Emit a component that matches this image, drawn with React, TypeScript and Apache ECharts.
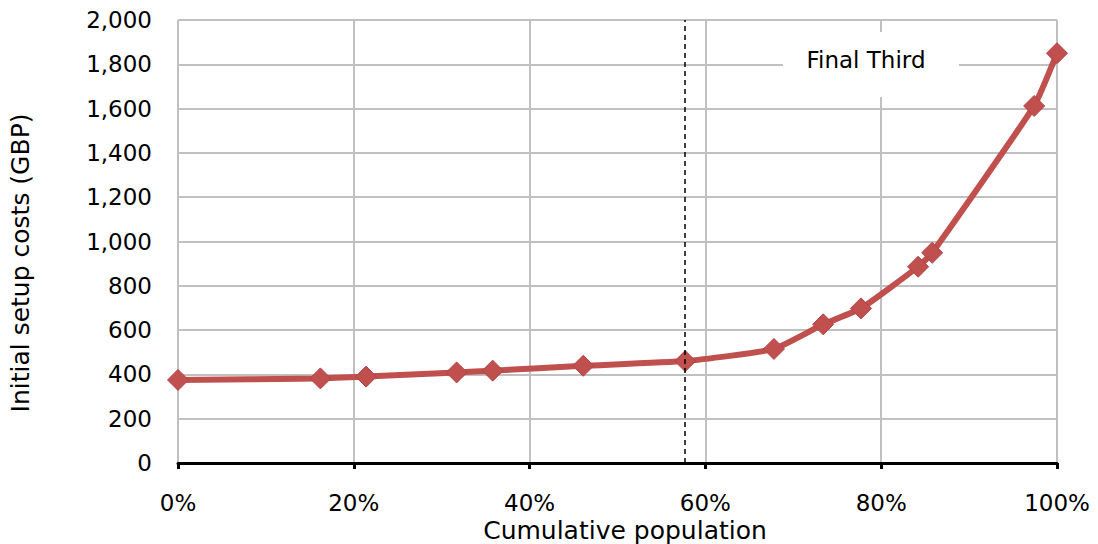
import React, { useEffect, useRef } from "react";
import * as echarts from "echarts";

// Cumulative share of the population (%) and the initial setup cost (GBP) at each step
const cumulativePopulation = [0, 16.2, 21.4, 31.7, 35.8, 46.1, 57.7, 67.8, 73.4, 77.7, 84.2, 85.8, 97.4, 100];
const setupCosts = [375, 382, 390, 409, 417, 439, 460, 515, 626, 698, 886, 949, 1612, 1850];

// Where the final third of the population begins
const finalThirdStart = 57.7;
const finalThirdLabel = "Final Third";

const xTitle = "Cumulative population";
const yTitle = "Initial setup costs (GBP)";

const xTicks = { min: 0, max: 100, interval: 20 };
const yTicks = { min: 0, max: 2000, interval: 200 };

const FONT = "'DejaVu Sans', sans-serif";

export default function App() {
  const ref = useRef<HTMLDivElement>(null);

  useEffect(() => {
    if (!ref.current) return;
    const chart = echarts.init(ref.current, undefined, { renderer: "svg" });
    const points = cumulativePopulation.map((x, i) => [x, setupCosts[i]]);

    chart.setOption({
      animation: false,
      grid: { left: 178, right: 41, top: 20, bottom: 81, containLabel: false },
      xAxis: {
        type: "value",
        ...xTicks,
        axisLine: { show: true, lineStyle: { color: "#000", width: 3 } },
        axisTick: { show: true, length: 6, lineStyle: { color: "#000", width: 3 } },
        axisLabel: {
          formatter: (v: number) => `${v}%`,
          fontFamily: FONT,
          fontSize: 23,
          color: "#000",
          margin: 28,
        },
        splitLine: { show: true, lineStyle: { color: "#c0c0c0", width: 2 } },
      },
      yAxis: {
        type: "value",
        ...yTicks,
        axisLine: { show: false },
        axisTick: { show: false },
        axisLabel: {
          formatter: (v: number) => v.toLocaleString("en-US"),
          fontFamily: FONT,
          fontSize: 23,
          color: "#000",
          margin: 26,
        },
        splitLine: { show: true, lineStyle: { color: "#c0c0c0", width: 2 } },
      },
      series: [
        {
          type: "line",
          data: points,
          smooth: 0.15,
          symbol: "diamond",
          symbolSize: 21,
          lineStyle: { color: "#c0504d", width: 6 },
          itemStyle: { color: "#c0504d", borderColor: "#b5414a", borderWidth: 1 },
          z: 3,
          markLine: {
            silent: true,
            symbol: "none",
            label: { show: false },
            lineStyle: { color: "#000", type: [5, 4], width: 1.5 },
            data: [[{ coord: [finalThirdStart, 0] }, { coord: [finalThirdStart, 2000] }]],
          },
        },
      ],
      graphic: [
        {
          type: "rect",
          shape: { x: 783, y: 32, width: 176, height: 65 },
          style: { fill: "#fff" },
          z: 10,
        },
        {
          type: "text",
          x: 866,
          y: 60,
          style: {
            text: finalThirdLabel,
            fontFamily: FONT,
            fontSize: 23,
            fill: "#000",
            align: "center",
            verticalAlign: "middle",
          },
          z: 11,
        },
        {
          type: "text",
          x: 625,
          y: 530,
          style: {
            text: xTitle,
            fontFamily: FONT,
            fontSize: 25,
            fill: "#000",
            align: "center",
            verticalAlign: "middle",
          },
        },
        {
          type: "text",
          x: 20,
          y: 263,
          rotation: Math.PI / 2,
          style: {
            text: yTitle,
            fontFamily: FONT,
            fontSize: 25,
            fill: "#000",
            align: "center",
            verticalAlign: "middle",
          },
        },
      ],
    });

    return () => chart.dispose();
  }, []);

  return <div ref={ref} style={{ width: 1098, height: 544, position: "absolute", left: 0, top: 0, background: "#fff" }} />;
}
